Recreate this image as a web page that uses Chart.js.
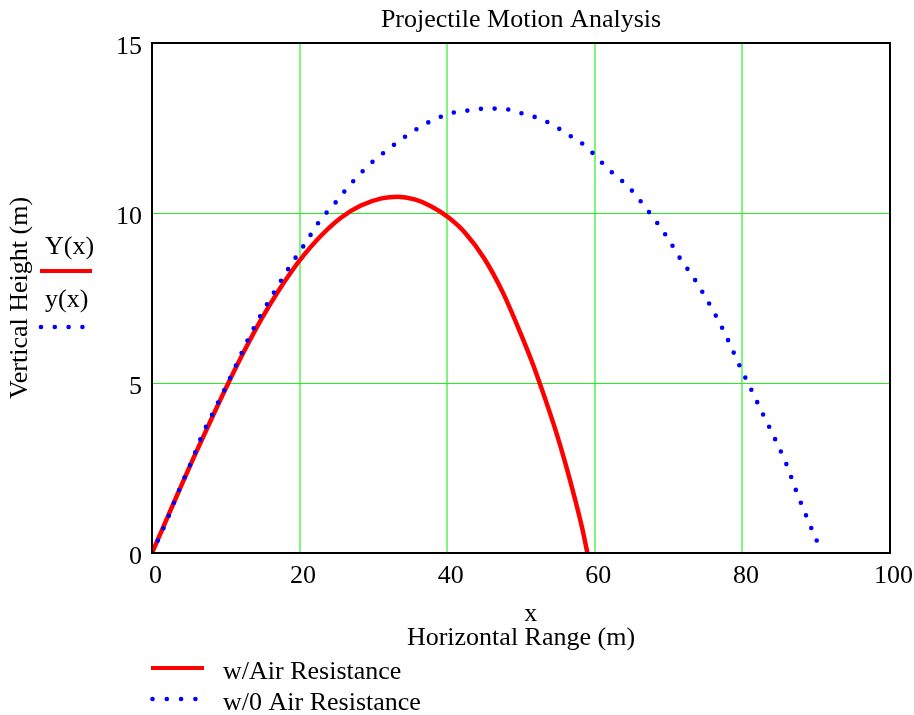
<!DOCTYPE html>
<html>
<head>
<meta charset="utf-8">
<title>Projectile Motion Analysis</title>
<script src="https://cdn.jsdelivr.net/npm/chart.js@4.4.1/dist/chart.umd.min.js"></script>
<style>
  html, body { margin: 0; padding: 0; background: #fff; }
  canvas { display: block; }
</style>
</head>
<body>
<canvas id="chart" width="914" height="715"></canvas>
<script>
// w/Air Resistance  -> Y(x)
let airX = [0, 1.7, 3.5, 5.8, 8.3, 10.3, 12.5, 14.8, 17.1, 18.9, 20.2, 22.9, 25.6, 28.3, 31.1, 33.3,
  35.6, 37.8, 40.1, 42.5, 45.0, 47.5, 50.0, 51.7, 53.2, 54.7, 56.1, 57.3, 58.3, 59.0];
let airY = [0, 0.85, 1.75, 2.88, 4.06, 4.98, 5.94, 6.87, 7.7, 8.28, 8.66, 9.33, 9.86, 10.22, 10.43, 10.48,
  10.4, 10.2, 9.88, 9.4, 8.67, 7.68, 6.43, 5.5, 4.58, 3.6, 2.57, 1.6, 0.72, 0];

// w/0 Air Resistance -> y(x)
let noAirX = [0, 1.8, 3.85, 5.4, 6.8, 8.4, 10.0, 11.65, 13.3, 14.9, 16.8, 18.8, 20.8, 22.7, 24.8, 26.8,
  29.7, 32.4, 34.6, 37.3, 40.6, 42.4, 44.3, 46.2, 48.1, 49.5, 51.1, 53.8, 56.5, 58.9, 60.2, 62.4, 64.6,
  66.8, 69.8, 71.6, 73.5, 76.5, 78.1, 79.7, 81.3, 82.7, 84.3, 86.0, 87.3, 89.5, 90.4];
let noAirY = [0, 0.85, 1.94, 2.71, 3.47, 4.18, 4.88, 5.65, 6.41, 7.06, 7.76, 8.47, 9.12, 9.76, 10.29, 10.82,
  11.47, 11.94, 12.29, 12.65, 12.94, 13.0, 13.06, 13.07, 13.05, 12.96, 12.88, 12.65, 12.29, 11.94, 11.65, 11.18, 10.76,
  10.18, 9.29, 8.65, 8.06, 6.94, 6.24, 5.47, 4.76, 4.12, 3.41, 2.59, 1.82, 0.65, 0.2];

let xTicks = [0, 20, 40, 60, 80, 100];
let yTicks = [0, 5, 10, 15];

const serif = '"Liberation Serif", "Times New Roman", serif';

function toPoints(xs, ys) {
  return xs.map((x, i) => ({ x: x, y: ys[i] }));
}

// Horizontal grid, frame round the plot, trace labels and the legend under the chart
const extras = {
  id: 'extras',
  beforeDatasetsDraw(chart) {
    const { ctx, chartArea: a } = chart;
    const ys = chart.scales.y;
    ctx.save();
    ctx.strokeStyle = '#22ee22';
    ctx.lineWidth = 1;
    yTicks.forEach(v => {
      const py = Math.round(ys.getPixelForValue(v)) + 0.5;
      ctx.beginPath();
      ctx.moveTo(a.left, py);
      ctx.lineTo(a.right, py);
      ctx.stroke();
    });
    ctx.restore();
  },
  afterDatasetsDraw(chart) {
    const { ctx, chartArea: a } = chart;
    ctx.save();
    ctx.strokeStyle = '#000';
    ctx.lineWidth = 2;
    ctx.strokeRect(a.left, a.top, a.right - a.left, a.bottom - a.top);
    ctx.restore();
  },
  afterDraw(chart) {
    const ctx = chart.ctx;
    ctx.save();
    ctx.font = '26px ' + serif;
    ctx.fillStyle = '#000';
    ctx.textAlign = 'left';
    ctx.textBaseline = 'alphabetic';

    const solid = (x1, x2, y) => {
      ctx.strokeStyle = '#ff0000';
      ctx.lineWidth = 4;
      ctx.beginPath();
      ctx.moveTo(x1, y);
      ctx.lineTo(x2, y);
      ctx.stroke();
    };
    const dots = (x0, y, n, step) => {
      ctx.fillStyle = '#0000ff';
      for (let i = 0; i < n; i++) {
        ctx.beginPath();
        ctx.arc(x0 + i * step, y, 2.3, 0, Math.PI * 2);
        ctx.fill();
      }
      ctx.fillStyle = '#000';
    };

    // trace names beside the y axis
    ctx.fillText('Y(x)', 45, 254);
    solid(40, 92, 271);
    ctx.fillText('y(x)', 45, 307);
    dots(41, 327, 4, 13.8);

    // legend
    solid(151, 204, 668);
    ctx.fillText('w/Air Resistance', 223, 679);
    dots(152.5, 699, 4, 14.3);
    ctx.fillText('w/0 Air Resistance', 223, 710);
    ctx.restore();
  }
};

const chart = new Chart(document.getElementById('chart'), {
  type: 'scatter',
  data: {
    datasets: [
      {
        label: 'w/0 Air Resistance',
        data: toPoints(noAirX, noAirY),
        showLine: true,
        borderColor: '#0000ff',
        borderWidth: 4.6,
        borderDash: [0, 13.7],
        borderCapStyle: 'round',
        cubicInterpolationMode: 'monotone',
        pointRadius: 0
      },
      {
        label: 'w/Air Resistance',
        data: toPoints(airX, airY),
        showLine: true,
        borderColor: '#ff0000',
        borderWidth: 4.5,
        cubicInterpolationMode: 'monotone',
        pointRadius: 0
      }
    ]
  },
  options: {
    responsive: false,
    animation: false,
    devicePixelRatio: 1,
    layout: { padding: { left: 0, right: 24, top: 0, bottom: 65 } },
    plugins: {
      legend: { display: false },
      tooltip: { enabled: false },
      title: {
        display: true,
        text: 'Projectile Motion Analysis',
        fullSize: false,
        color: '#000',
        font: { family: serif, size: 26, weight: 'normal', lineHeight: 1.2 },
        padding: { top: 4.9, bottom: 6.9 }
      }
    },
    scales: {
      x: {
        type: 'linear',
        min: 0,
        max: 100,
        afterFit(s) {
          s.height = 97;
          s.paddingLeft = 0;
          s.paddingRight = 0;
        },
        afterBuildTicks(s) { s.ticks = xTicks.map(v => ({ value: v })); },
        grid: { color: 'rgb(125, 246, 125)', lineWidth: 2, drawTicks: false },
        border: { display: false },
        ticks: {
          color: '#000',
          font: { family: serif, size: 26 },
          padding: 7.6,
          labelOffset: 3.5,
          maxRotation: 0
        },
        title: {
          display: true,
          text: ['   x', 'Horizontal Range (m)'],
          color: '#000',
          font: { family: serif, size: 26, lineHeight: 0.91 },
          padding: { top: 0, bottom: 0 }
        }
      },
      y: {
        type: 'linear',
        min: 0,
        max: 15,
        afterFit(s) { s.width = 152; },
        afterBuildTicks(s) { s.ticks = yTicks.map(v => ({ value: v })); },
        grid: { display: false, drawTicks: false },
        border: { display: false },
        ticks: {
          color: '#000',
          font: { family: serif, size: 26 },
          padding: 10,
          labelOffset: 4
        },
        title: {
          display: true,
          text: 'Vertical Height (m)',
          color: '#000',
          font: { family: serif, size: 26, lineHeight: 1.2 },
          padding: { top: 4.9, bottom: 0 }
        }
      }
    }
  },
  plugins: [extras]
});
</script>
</body>
</html>
